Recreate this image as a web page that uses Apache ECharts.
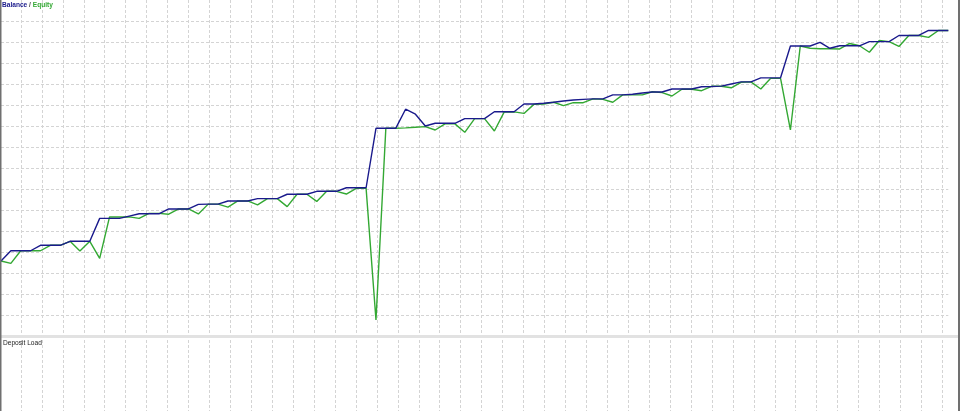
<!DOCTYPE html>
<html>
<head>
<meta charset="utf-8">
<script src="https://cdn.jsdelivr.net/npm/echarts@6/dist/echarts.min.js"></script>
<style>
html,body{margin:0;padding:0;background:#fff;}
#chart{width:960px;height:411px;}
</style>
</head>
<body>
<div id="chart"></div>
<script>
// Trade numbers (x axis categories)
const trades = Array.from({length: 97}, (_, i) => String(i));

// Balance values per trade
const balance = [
  8757, 8806, 8806, 8806, 8832, 8832, 8832, 8851, 8851, 8851,
  8960, 8960, 8960, 8971, 8982, 8982, 8982, 9005, 9005, 9005,
  9027, 9028, 9028, 9043, 9043, 9043, 9054, 9054, 9054, 9075,
  9075, 9075, 9089, 9089, 9089, 9106, 9106, 9106, 9389, 9389,
  9389, 9480, 9456, 9400, 9413, 9413, 9413, 9435, 9435, 9435,
  9468, 9468, 9468, 9505, 9505, 9508, 9513, 9519, 9524, 9527,
  9529, 9529, 9548, 9548, 9551, 9557, 9562, 9562, 9576, 9576,
  9576, 9587, 9588, 9590, 9600, 9610, 9610, 9629, 9629, 9630,
  9781, 9781, 9781, 9798, 9770, 9782, 9782, 9782, 9802, 9802,
  9802, 9831, 9831, 9831, 9855, 9855, 9855
];

// Equity values per trade
const equity = [
  8757, 8746, 8806, 8806, 8806, 8832, 8832, 8851, 8805, 8851,
  8770, 8967, 8967, 8967, 8960, 8984, 8984, 8980, 9005, 9005,
  8981, 9028, 9028, 9014, 9043, 9043, 9024, 9054, 9054, 9016,
  9075, 9075, 9041, 9089, 9089, 9076, 9103, 9103, 8476, 9389,
  9389, 9391, 9394, 9397, 9381, 9410, 9410, 9370, 9435, 9435,
  9376, 9467, 9467, 9460, 9503, 9505, 9513, 9497, 9511, 9511,
  9529, 9527, 9513, 9548, 9548, 9548, 9563, 9559, 9543, 9575,
  9575, 9568, 9589, 9589, 9582, 9608, 9610, 9576, 9627, 9627,
  9381, 9781, 9770, 9768, 9768, 9767, 9793, 9782, 9751, 9807,
  9802, 9779, 9831, 9831, 9822, 9855, 9855
];

// Value range of the balance/equity panel
const yMin = 8400, yMax = 10000, yStep = 100;

const chart = echarts.init(document.getElementById('chart'), null, {renderer: 'canvas'});
const gridLine = {show: true, lineStyle: {color: '#d4d4d4', type: [3, 2], width: 1}};

chart.setOption({
  animation: false,
  backgroundColor: '#ffffff',
  title: [
    {
      text: '{a|Balance}{s| / }{b|Equity}',
      left: 2, top: 2, padding: 0,
      textStyle: {
        rich: {
          a: {color: '#1a1a8c', fontSize: 6.6, fontFamily: 'Liberation Sans'},
          s: {color: '#444', fontSize: 6.6, fontFamily: 'Liberation Sans'},
          b: {color: '#33a833', fontSize: 6.6, fontFamily: 'Liberation Sans'}
        }
      }
    },
    {
      text: 'Deposit Load',
      left: 3, top: 340, padding: 0,
      textStyle: {color: '#222', fontSize: 6.6, fontWeight: 'normal', fontFamily: 'Liberation Sans'}
    }
  ],
  grid: [
    {left: 0, top: 0, width: 960, height: 411, show: false},
    {left: 1, right: 11.7, top: 0, height: 336, show: false}
  ],
  xAxis: [
    {
      type: 'value', gridIndex: 0, min: 0, max: 960, interval: 20.94,
      axisLine: {show: false}, axisTick: {show: false}, axisLabel: {show: false},
      splitLine: Object.assign({}, gridLine, {showMinLine: false, showMaxLine: false})
    },
    {
      type: 'category', gridIndex: 1, data: trades, boundaryGap: false,
      axisLine: {show: false}, axisTick: {show: false}, axisLabel: {show: false},
      splitLine: {show: false}
    }
  ],
  yAxis: [
    {
      type: 'value', gridIndex: 0, min: 0, max: 1,
      axisLine: {show: false}, axisTick: {show: false}, axisLabel: {show: false},
      splitLine: {show: false}
    },
    {
      type: 'value', gridIndex: 1, min: yMin, max: yMax, interval: yStep,
      axisLine: {show: false}, axisTick: {show: false}, axisLabel: {show: false},
      splitLine: Object.assign({}, gridLine, {showMinLine: false, showMaxLine: false})
    }
  ],
  series: [
    {
      name: 'Equity', type: 'line', xAxisIndex: 1, yAxisIndex: 1,
      data: equity, showSymbol: false, symbol: 'none',
      lineStyle: {color: '#33a833', width: 1.4}, z: 3
    },
    {
      name: 'Balance', type: 'line', xAxisIndex: 1, yAxisIndex: 1,
      data: balance, showSymbol: false, symbol: 'none',
      lineStyle: {color: '#1a1a8c', width: 1.4}, z: 4
    }
  ],
  graphic: [
    {type: 'rect', shape: {x: 0, y: 335, width: 960, height: 3}, style: {fill: '#e2e2e2'}, z: 10},
    {type: 'rect', shape: {x: 0, y: 0, width: 1.5, height: 411}, style: {fill: '#707070'}, z: 10},
    {type: 'rect', shape: {x: 958, y: 0, width: 2, height: 411}, style: {fill: '#707070'}, z: 10}
  ]
});
</script>
</body>
</html>
